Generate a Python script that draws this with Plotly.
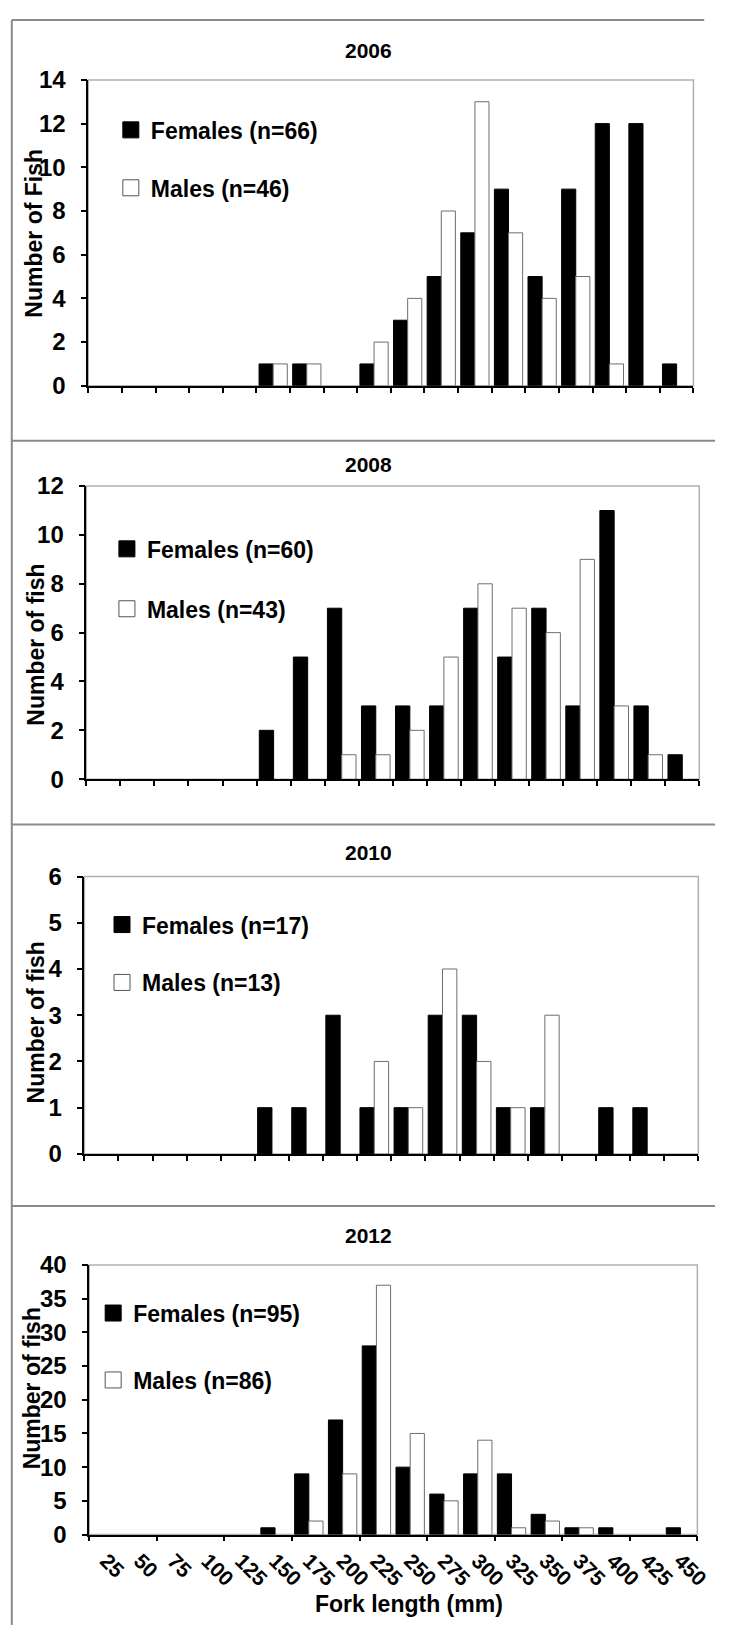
import plotly.graph_objects as go

# Fork-length classes (mm) shared by all four survey years
fork_length = [25, 50, 75, 100, 125, 150, 175, 200, 225, 250,
               275, 300, 325, 350, 375, 400, 425, 450]

years = ["2006", "2008", "2010", "2012"]

females_2006 = [0, 0, 0, 0, 0, 1, 1, 0, 1, 3, 5, 7, 9, 5, 9, 12, 12, 1]
males_2006 = [0, 0, 0, 0, 0, 1, 1, 0, 2, 4, 8, 13, 7, 4, 5, 1, 0, 0]

females_2008 = [0, 0, 0, 0, 0, 2, 5, 7, 3, 3, 3, 7, 5, 7, 3, 11, 3, 1]
males_2008 = [0, 0, 0, 0, 0, 0, 0, 1, 1, 2, 5, 8, 7, 6, 9, 3, 1, 0]

females_2010 = [0, 0, 0, 0, 0, 1, 1, 3, 1, 1, 3, 3, 1, 1, 0, 1, 1, 0]
males_2010 = [0, 0, 0, 0, 0, 0, 0, 0, 2, 1, 4, 2, 1, 3, 0, 0, 0, 0]

females_2012 = [0, 0, 0, 0, 0, 1, 9, 17, 28, 10, 6, 9, 9, 3, 1, 1, 0, 1]
males_2012 = [0, 0, 0, 0, 0, 0, 2, 9, 37, 15, 5, 14, 1, 2, 1, 0, 0, 0]

female_counts = [females_2006, females_2008, females_2010, females_2012]
male_counts = [males_2006, males_2008, males_2010, males_2012]
female_labels = ["Females (n=66)", "Females (n=60)", "Females (n=17)", "Females (n=95)"]
male_labels = ["Males (n=46)", "Males (n=43)", "Males (n=13)", "Males (n=86)"]
y_titles = ["Number of Fish", "Number of fish", "Number of fish", "Number of fish"]
y_max = [14, 12, 6, 40]
y_step = [2, 2, 1, 5]

W, H = 729, 1638
FONT = "Liberation Sans, Arial, sans-serif"


def fx(px):
    return px / W


def fy(py):
    return 1 - py / H


def nonzero(values):
    # empty classes get no bar at all
    return [v if v else None for v in values]


# Plot-area boxes in pixels: (left, right, top, bottom)
boxes = [(90, 707, 67, 378), (88, 713, 480, 778), (86, 712, 877, 1159), (91, 711, 1272, 1546)]
title_y = [37, 458, 853, 1242]
ytitle_pos = [(35, 223), (37, 641), (37, 1025), (33, 1397)]
legend_pos = [(113, 96), (109, 522), (104, 904), (95, 1299)]
legend_gap = [25, 27, 25, 34]
panel_tops = [6, 434, 824, 1212]

step = fork_length[1] - fork_length[0]
lo = fork_length[0] - step / 2
hi = fork_length[-1] + step / 2
boundaries = [lo + step * k for k in range(len(fork_length) + 1)]

fig = go.Figure()
layout = dict(
    width=W, height=H, autosize=False,
    margin=dict(l=0, r=0, t=0, b=0),
    paper_bgcolor="white", plot_bgcolor="white",
    barmode="group", bargap=0.16, bargroupgap=0,
    showlegend=True,
    font=dict(family=FONT, color="black"),
)
annotations = []
shapes = []

for i in range(4):
    n = "" if i == 0 else str(i + 1)
    xa, ya = "x" + n, "y" + n
    leg = "legend" + n
    fig.add_trace(go.Bar(
        x=fork_length, y=nonzero(female_counts[i]), xaxis=xa, yaxis=ya,
        marker=dict(color="black", line=dict(color="black", width=1)),
        showlegend=False, name=female_labels[i],
    ))
    fig.add_trace(go.Bar(
        x=fork_length, y=nonzero(male_counts[i]), xaxis=xa, yaxis=ya,
        marker=dict(color="white", line=dict(color="#6e6e6e", width=1)),
        showlegend=False, name=male_labels[i],
    ))
    # legend entries with square swatches
    fig.add_trace(go.Scatter(
        x=[None], y=[None], xaxis=xa, yaxis=ya, mode="markers",
        marker=dict(symbol="square", size=16, color="black", line=dict(color="black", width=1)),
        name=female_labels[i], legend=leg, legendgroup="f" + str(i),
    ))
    fig.add_trace(go.Scatter(
        x=[None], y=[None], xaxis=xa, yaxis=ya, mode="markers",
        marker=dict(symbol="square", size=16, color="white", line=dict(color="#555555", width=1)),
        name=male_labels[i], legend=leg, legendgroup="m" + str(i),
    ))

    l, r, t, b = boxes[i]
    xaxis = dict(
        domain=[fx(l), fx(r)], anchor=ya, range=[lo, hi],
        showline=True, linecolor="black", linewidth=1.5,
        showgrid=False, zeroline=False, fixedrange=True,
    )
    if i < 3:
        xaxis.update(tickmode="array", tickvals=boundaries, ticks="outside",
                     ticklen=5, tickwidth=1.5, tickcolor="black", showticklabels=False)
    else:
        xaxis.update(
            tickmode="array", tickvals=fork_length,
            ticktext=[str(v) for v in fork_length],
            ticks="", tickangle=45, ticklabelstandoff=4,
            tickfont=dict(size=21, weight="bold", family=FONT),
            minor=dict(tickmode="array", tickvals=boundaries[::2], ticks="outside",
                       ticklen=5, tickwidth=1.5, tickcolor="black", showgrid=False),
        )
    yaxis = dict(
        domain=[fy(b), fy(t)], anchor=xa, range=[0, y_max[i]],
        tickmode="linear", tick0=0, dtick=y_step[i],
        showline=True, linecolor="black", linewidth=1.5,
        ticks="outside", ticklen=6, tickwidth=1.5, tickcolor="black",
        ticklabelstandoff=10,
        tickfont=dict(size=24, weight="bold", family=FONT),
        showgrid=False, zeroline=False, fixedrange=True,
    )
    layout["xaxis" + n] = xaxis
    layout["yaxis" + n] = yaxis

    lx, ly = legend_pos[i]
    layout[leg] = dict(
        x=fx(lx), y=fy(ly), xanchor="left", yanchor="top",
        bgcolor="rgba(0,0,0,0)", borderwidth=0,
        traceorder="grouped", tracegroupgap=legend_gap[i],
        font=dict(size=23, weight="bold", family=FONT),
        itemclick=False, itemdoubleclick=False,
    )

    # light frame on the top and right of the plotting area
    shapes.append(dict(type="rect", xref=xa + " domain", yref=ya + " domain",
                       x0=0, x1=1, y0=0, y1=1, layer="below",
                       line=dict(color="#b0b0b0", width=1.5)))

    annotations.append(dict(
        text=years[i], x=fx(376), y=fy(title_y[i]), xref="paper", yref="paper",
        xanchor="center", yanchor="middle", showarrow=False,
        font=dict(size=21, weight="bold", family=FONT),
    ))
    tx, ty = ytitle_pos[i]
    annotations.append(dict(
        text=y_titles[i], x=fx(tx), y=fy(ty), xref="paper", yref="paper",
        xanchor="center", yanchor="middle", showarrow=False, textangle=-90,
        font=dict(size=23, weight="bold", family=FONT),
    ))

    # panel frame lines
    right_end = 718 if i == 0 else W
    shapes.append(dict(type="line", xref="paper", yref="paper",
                       x0=fx(12), x1=fx(right_end), y0=fy(panel_tops[i]), y1=fy(panel_tops[i]),
                       line=dict(color="#8a8a8a", width=2)))

shapes.append(dict(type="line", xref="paper", yref="paper",
                   x0=fx(12), x1=fx(12), y0=fy(panel_tops[0]), y1=0,
                   line=dict(color="#8a8a8a", width=2)))

annotations.append(dict(
    text="Fork length (mm)", x=fx(417), y=fy(1617), xref="paper", yref="paper",
    xanchor="center", yanchor="middle", showarrow=False,
    font=dict(size=23, weight="bold", family=FONT),
))

layout["annotations"] = annotations
layout["shapes"] = shapes
fig.update_layout(**layout)

fig.write_html("out.html")
